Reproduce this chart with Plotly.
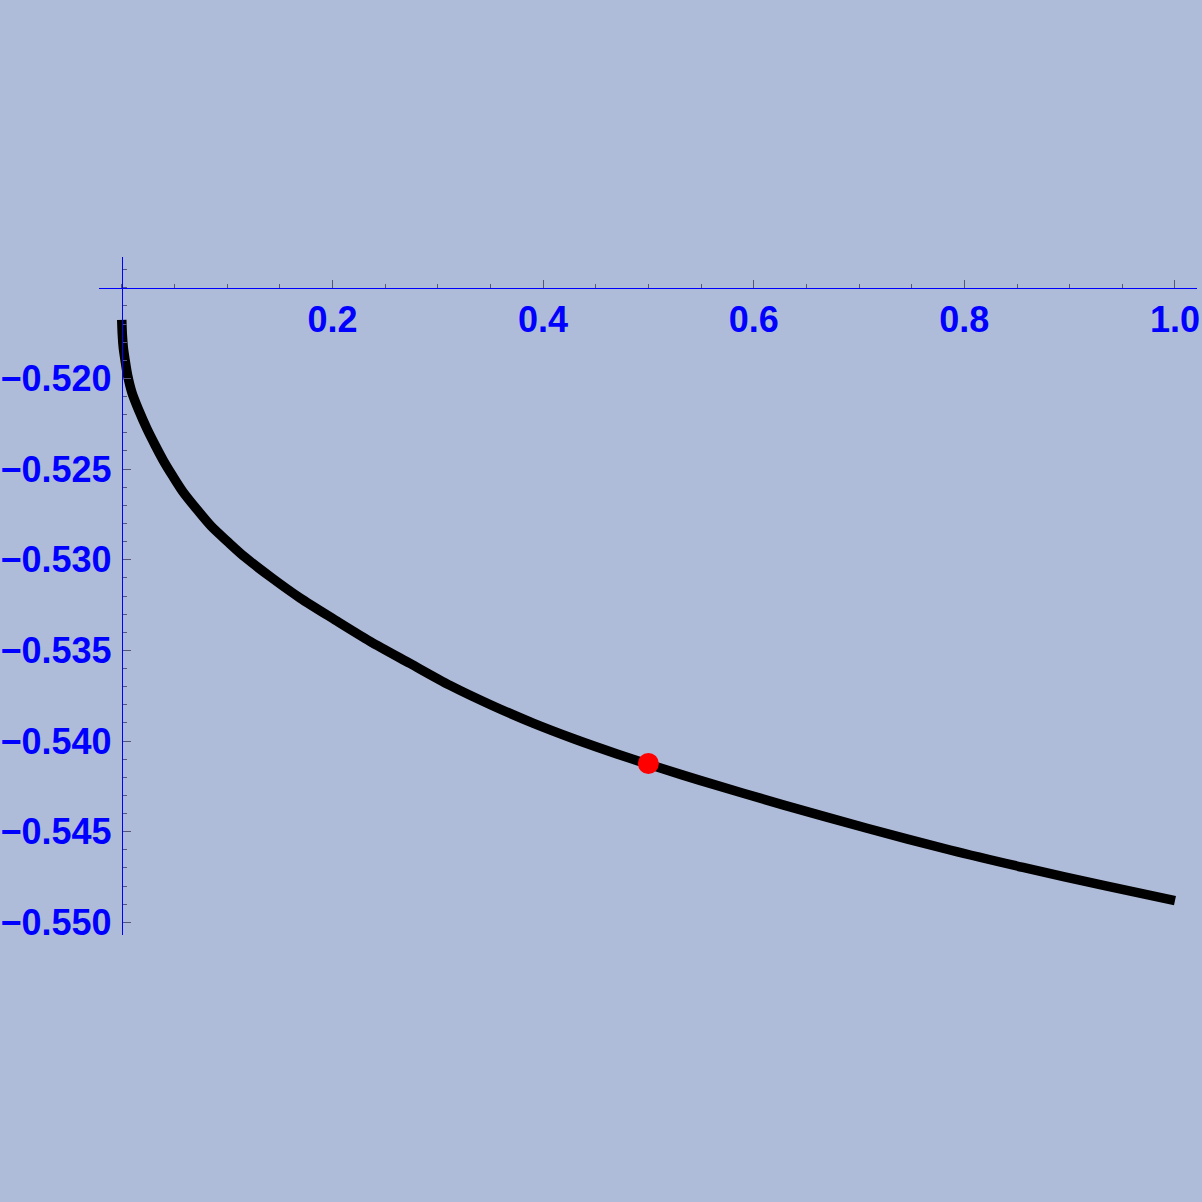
import plotly.graph_objects as go

# Curve values
x_vals = [0.0, 0.00057, 0.00152, 0.00313, 0.00551, 0.00978, 0.01643, 0.02402,
          0.03162, 0.03921, 0.04871, 0.05820, 0.07149, 0.08478, 0.10092, 0.11706,
          0.14269, 0.16928, 0.20250, 0.23573, 0.27371, 0.31168, 0.35061, 0.39048,
          0.43036, 0.47023, 0.50916, 0.54903, 0.62783, 0.70758, 0.78638, 0.85569,
          0.93544, 1.0]
y_vals = [-0.51677, -0.51760, -0.51832, -0.51898, -0.51981, -0.52080, -0.52179,
          -0.52279, -0.52367, -0.52450, -0.52541, -0.52626, -0.52723, -0.52814,
          -0.52902, -0.52986, -0.53101, -0.53211, -0.53332, -0.53450, -0.53572,
          -0.53693, -0.53801, -0.53901, -0.53990, -0.54071, -0.54145, -0.54217,
          -0.54352, -0.54481, -0.54601, -0.54697, -0.54801, -0.54880]

# Highlighted point
pt_x = [0.5]
pt_y = [-0.54124]

# Tick labels
x_ticks = [0.2, 0.4, 0.6, 0.8, 1.0]
x_ticktext = ["0.2", "0.4", "0.6", "0.8", "1.0"]
y_ticks = [-0.550, -0.545, -0.540, -0.535, -0.530, -0.525, -0.520]
y_ticktext = ["\u22120.550", "\u22120.545", "\u22120.540", "\u22120.535",
              "\u22120.530", "\u22120.525", "\u22120.520"]

x_range = [-0.0216, 1.0209]
y_range = [-0.5507, -0.5133]
x_axis_at_y = -0.515   # where the horizontal axis crosses
y_axis_at_x = 0.0      # where the vertical axis crosses

bg = "#AFBCD9"
blue = "#0000FF"
tickgray = "#555577"

fig = go.Figure()
fig.add_trace(go.Scatter(x=x_vals, y=y_vals, mode="lines",
                         line=dict(color="black", width=9.5, shape="spline", smoothing=0.8),
                         hoverinfo="skip", showlegend=False))
fig.add_trace(go.Scatter(x=pt_x, y=pt_y, mode="markers",
                         marker=dict(color="#FF0000", size=21, line=dict(width=0)),
                         showlegend=False))

xpos = (x_axis_at_y - y_range[0]) / (y_range[1] - y_range[0])
ypos = (y_axis_at_x - x_range[0]) / (x_range[1] - x_range[0])

fig.update_layout(
    width=1202, height=1202,
    margin=dict(l=99, r=5, t=257, b=267),
    paper_bgcolor=bg, plot_bgcolor=bg,
    showlegend=False,
    xaxis=dict(range=x_range, anchor="free", position=xpos, side="bottom",
               showgrid=False, zeroline=False, showline=True, linecolor=blue, linewidth=1,
               tickmode="array", tickvals=x_ticks, ticktext=x_ticktext,
               ticks="inside", ticklen=8, tickwidth=1, tickcolor=tickgray,
               tickfont=dict(family="Liberation Sans, Arial", size=36, color=blue, weight="bold"),
               ticklabelstandoff=0,
               minor=dict(dtick=0.05, tick0=0, ticks="inside", ticklen=4, tickcolor=tickgray, showgrid=False),
               automargin=False),
    yaxis=dict(range=y_range, anchor="free", position=ypos, side="left",
               showgrid=False, zeroline=False, showline=True, linecolor=blue, linewidth=1,
               tickmode="array", tickvals=y_ticks, ticktext=y_ticktext,
               ticks="inside", ticklen=8, tickwidth=1, tickcolor=tickgray,
               tickfont=dict(family="Liberation Sans, Arial", size=36, color=blue, weight="bold"),
               ticklabelstandoff=3,
               minor=dict(dtick=0.001, tick0=-0.55, ticks="inside", ticklen=4, tickcolor=tickgray, showgrid=False),
               automargin=False),
)

fig.write_html("out.html", config={"displayModeBar": False},
               post_script="document.body.style.margin='0';document.body.style.overflow='hidden';")
